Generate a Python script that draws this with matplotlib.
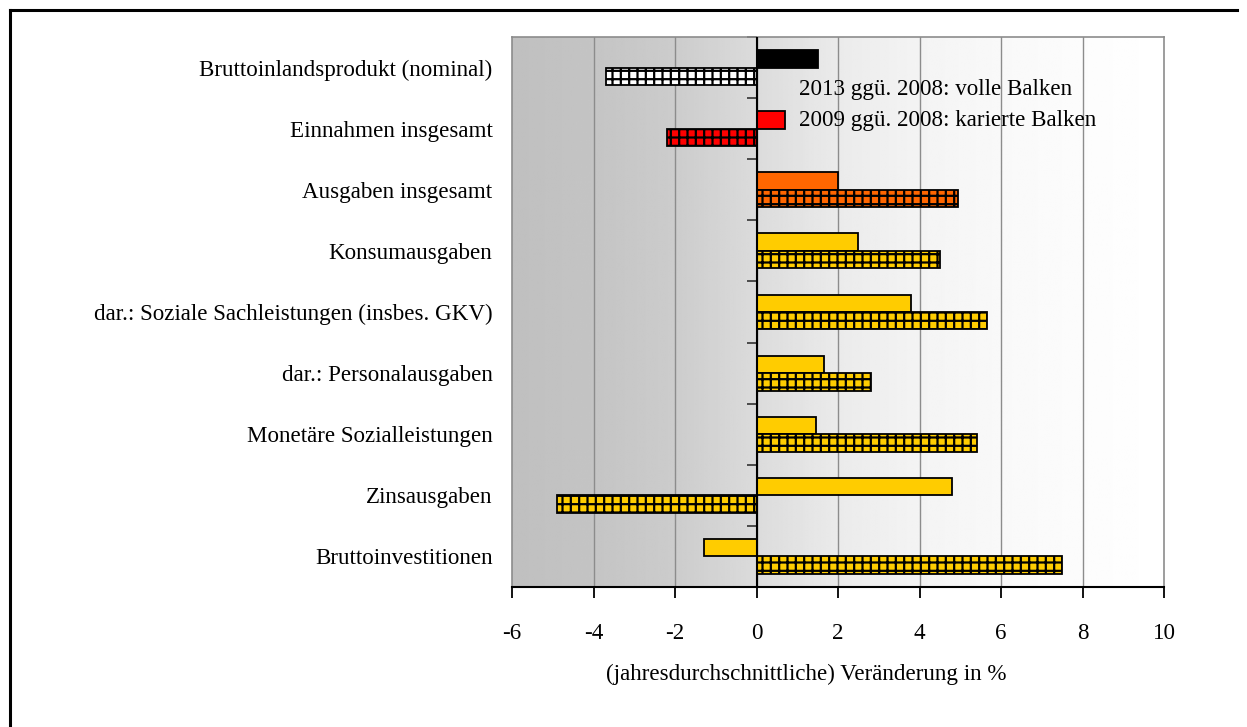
import numpy as np
import matplotlib.pyplot as plt
from matplotlib.lines import Line2D

plt.rcParams['font.family'] = ['Liberation Serif', 'DejaVu Serif']
plt.rcParams['hatch.linewidth'] = 1.6

# Daten
kategorien = ['Bruttoinlandsprodukt (nominal)', 'Einnahmen insgesamt', 'Ausgaben insgesamt',
              'Konsumausgaben', 'dar.: Soziale Sachleistungen (insbes. GKV)',
              'dar.: Personalausgaben', 'Monetäre Sozialleistungen', 'Zinsausgaben',
              'Bruttoinvestitionen']
v_2013 = [1.5, 0.7, 2.0, 2.5, 3.8, 1.65, 1.45, 4.8, -1.3]   # 2013 ggü. 2008 (volle Balken)
v_2009 = [-3.7, -2.2, 4.95, 4.5, 5.65, 2.8, 5.4, -4.9, 7.5]  # 2009 ggü. 2008 (karierte Balken)
farben_voll = ['#000000', '#FF0000', '#FF6600'] + ['#FFCC00'] * 6
farben_kariert = ['#FFFFFF', '#FF0000', '#FF6600'] + ['#FFCC00'] * 6
x_ticks = [-6, -4, -2, 0, 2, 4, 6, 8, 10]

fs = 16.6

fig = plt.figure(figsize=(12.47, 7.27), dpi=100)
ax = fig.add_axes([512 / 1247, 1 - 587 / 727, 652 / 1247, 550 / 727])

n = len(kategorien)
y = np.arange(n)
h = 0.286

# Hintergrund-Verlauf
grad_x = np.linspace(0, 1, 400)
grau = np.interp(grad_x, [0, 0.125, 0.25, 0.375, 0.5, 0.625, 0.75, 1.0],
                 [0.75, 0.77, 0.80, 0.86, 0.92, 0.955, 0.975, 1.0])
ax.imshow(np.tile(grau, (2, 1)), cmap='gray', vmin=0, vmax=1, aspect='auto',
          extent=[x_ticks[0], x_ticks[-1], n - 0.5, -0.5], zorder=0, interpolation='bilinear')

for xv in x_ticks[1:-1]:
    ax.axvline(xv, color='#8c8c8c', lw=1, zorder=1)

ax.barh(y - h / 2, v_2013, height=h, color=farben_voll, edgecolor='black', lw=1.3, zorder=3)
ax.barh(y + h / 2, v_2009, height=h, color=farben_kariert, edgecolor='black', lw=1.3,
        hatch='++', zorder=3)

ax.axvline(0, color='black', lw=1.5, zorder=4)

ax.set_xlim(x_ticks[0], x_ticks[-1])
ax.set_ylim(n - 0.5, -0.5)
ax.set_xticks(x_ticks)
ax.set_xticklabels([str(t) for t in x_ticks], fontsize=fs)
ax.tick_params(axis='x', length=8, width=1.3, pad=18, color='black')
ax.set_yticks(y)
ax.set_yticklabels(kategorien, fontsize=fs)
ax.tick_params(axis='y', length=0, pad=14)

# Kategorie-Trennstriche an der Nulllinie
sec = ax.secondary_yaxis((0 - x_ticks[0]) / (x_ticks[-1] - x_ticks[0]))
sec.set_yticks(np.arange(n + 1) - 0.5)
sec.set_yticklabels([])
sec.tick_params(length=7, width=1.3, color='#404040')
sec.spines['left'].set_visible(False)

for s in ['left', 'top', 'right']:
    ax.spines[s].set_color('#8c8c8c')
    ax.spines[s].set_linewidth(1.2)
ax.spines['bottom'].set_color('black')
ax.spines['bottom'].set_linewidth(1.5)

ax.set_xlabel('(jahresdurchschnittliche) Veränderung in %', fontsize=fs)
ax.xaxis.set_label_coords(0.451, -0.14)

ax.text(1.05, 0.36, '2013 ggü. 2008: volle Balken', fontsize=fs, va='center', ha='left', zorder=5)
ax.text(1.05, 0.87, '2009 ggü. 2008: karierte Balken', fontsize=fs, va='center', ha='left', zorder=5)

# Rahmen (oben und links)
fig.add_artist(Line2D([10 / 1247, 1237 / 1247], [1 - 10 / 727, 1 - 10 / 727], color='black', lw=2.2))
fig.add_artist(Line2D([10 / 1247, 10 / 1247], [1 - 10 / 727, 0], color='black', lw=2.2))

fig.savefig('out.png', dpi=100)
